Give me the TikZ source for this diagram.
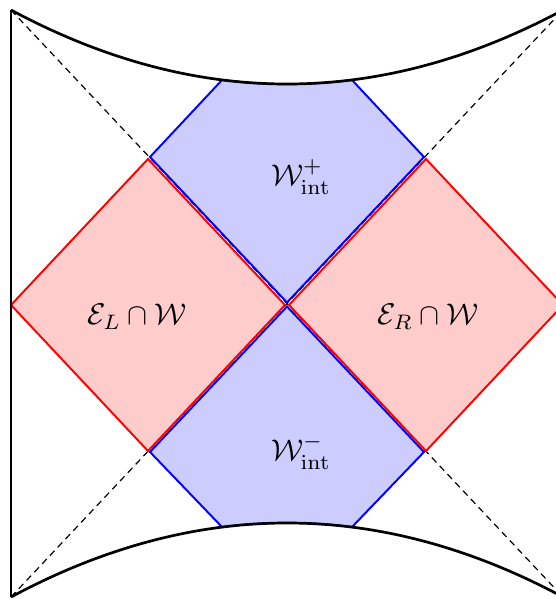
\documentclass[tikz,border=0pt]{standalone}
\begin{document}
\begin{tikzpicture}[x=0.334pt,y=-0.334pt,
  wall/.style={black,line width=0.9pt},
  horizon/.style={black,line width=0.4pt,dash pattern=on 2.2pt off 1.6pt},
  wedgeblue/.style={draw=blue,fill=blue!20,line width=0.65pt,line join=miter},
  wedgered/.style={draw=red,fill=red!20,line width=0.65pt,line join=miter},
  lbl/.style={inner sep=0pt}]
\clip (0,0) rectangle (556,599);
% corners
\coordinate (TL) at (11,10);
\coordinate (BL) at (11,597);
\coordinate (TR) at (563,10);
\coordinate (BR) at (563,597);
% dashed horizons
\draw[horizon] (TL) -- (BR);
\draw[horizon] (BL) -- (TR);
% blue regions
\draw[wedgeblue] (287,302.5) -- (150,157) -- (222,80)
  .. controls (265.3,85.5) and (308.7,85.5) .. (352,80) -- (424,157) -- cycle;
\draw[wedgeblue] (287,306.5) -- (150,452) -- (222,527)
  .. controls (265.3,521.5) and (308.7,521.5) .. (352,527) -- (424,452) -- cycle;
% red regions
\draw[wedgered] (11,305) -- (148,159) -- (285,305) -- (148,451) -- cycle;
\draw[wedgered] (289,305) -- (426,159) -- (563,305) -- (426,451) -- cycle;
% boundaries
\draw[wall] (TL) .. controls (195,108.67) and (379,108.67) .. (TR);
\draw[wall] (BL) .. controls (195,498.33) and (379,498.33) .. (BR);
\draw[wall] (TL) -- (BL);
% labels
\node[lbl] (wp) at (301,177) {$\mathcal{W}^+_{\mathrm{int}}$};
\node[lbl] (wm) at (301,452) {$\mathcal{W}^-_{\mathrm{int}}$};
\node[lbl] (el) at (137,317) {$\mathcal{E}_L\cap\mathcal{W}$};
\node[lbl] (er) at (428,317) {$\mathcal{E}_R\cap\mathcal{W}$};
\end{tikzpicture}
\end{document}
